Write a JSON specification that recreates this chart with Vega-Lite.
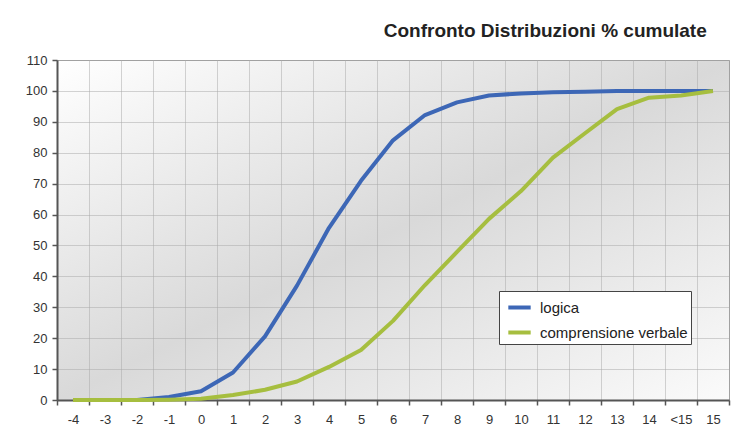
{
  "$schema": "https://vega.github.io/schema/vega-lite/v6.json",
  "width": 672,
  "height": 340,
  "autosize": "none",
  "padding": {"left": 57, "top": 60, "right": 10, "bottom": 41},
  "background": "white",
  "title": {
    "text": "Confronto Distribuzioni % cumulate",
    "anchor": "end",
    "dx": -23,
    "offset": 13,
    "font": "Liberation Sans",
    "fontSize": 19,
    "fontWeight": "bold",
    "color": "#222222"
  },
  "data": {
    "values": [
      {"p": "-4", "o": 0, "s": "logica", "v": 0},
      {"p": "-3", "o": 1, "s": "logica", "v": 0},
      {"p": "-2", "o": 2, "s": "logica", "v": 0},
      {"p": "-1", "o": 3, "s": "logica", "v": 1},
      {"p": "0", "o": 4, "s": "logica", "v": 2.8},
      {"p": "1", "o": 5, "s": "logica", "v": 8.9},
      {"p": "2", "o": 6, "s": "logica", "v": 20.6},
      {"p": "3", "o": 7, "s": "logica", "v": 37},
      {"p": "4", "o": 8, "s": "logica", "v": 55.7},
      {"p": "5", "o": 9, "s": "logica", "v": 70.9},
      {"p": "6", "o": 10, "s": "logica", "v": 84},
      {"p": "7", "o": 11, "s": "logica", "v": 92.2},
      {"p": "8", "o": 12, "s": "logica", "v": 96.3},
      {"p": "9", "o": 13, "s": "logica", "v": 98.5},
      {"p": "10", "o": 14, "s": "logica", "v": 99.2},
      {"p": "11", "o": 15, "s": "logica", "v": 99.6},
      {"p": "12", "o": 16, "s": "logica", "v": 99.7},
      {"p": "13", "o": 17, "s": "logica", "v": 100},
      {"p": "14", "o": 18, "s": "logica", "v": 100},
      {"p": "<15", "o": 19, "s": "logica", "v": 100},
      {"p": "15", "o": 20, "s": "logica", "v": 100},
      {"p": "-4", "o": 0, "s": "comprensione verbale", "v": 0},
      {"p": "-3", "o": 1, "s": "comprensione verbale", "v": 0},
      {"p": "-2", "o": 2, "s": "comprensione verbale", "v": 0},
      {"p": "-1", "o": 3, "s": "comprensione verbale", "v": 0.1},
      {"p": "0", "o": 4, "s": "comprensione verbale", "v": 0.4},
      {"p": "1", "o": 5, "s": "comprensione verbale", "v": 1.6},
      {"p": "2", "o": 6, "s": "comprensione verbale", "v": 3.3},
      {"p": "3", "o": 7, "s": "comprensione verbale", "v": 6},
      {"p": "4", "o": 8, "s": "comprensione verbale", "v": 10.7},
      {"p": "5", "o": 9, "s": "comprensione verbale", "v": 16.2},
      {"p": "6", "o": 10, "s": "comprensione verbale", "v": 25.6},
      {"p": "7", "o": 11, "s": "comprensione verbale", "v": 37.2},
      {"p": "8", "o": 12, "s": "comprensione verbale", "v": 47.9},
      {"p": "9", "o": 13, "s": "comprensione verbale", "v": 58.6},
      {"p": "10", "o": 14, "s": "comprensione verbale", "v": 67.6},
      {"p": "11", "o": 15, "s": "comprensione verbale", "v": 78.4},
      {"p": "12", "o": 16, "s": "comprensione verbale", "v": 86.3},
      {"p": "13", "o": 17, "s": "comprensione verbale", "v": 94.1},
      {"p": "14", "o": 18, "s": "comprensione verbale", "v": 97.8},
      {"p": "<15", "o": 19, "s": "comprensione verbale", "v": 98.5},
      {"p": "15", "o": 20, "s": "comprensione verbale", "v": 100}
    ]
  },
  "mark": {"type": "line", "strokeWidth": 4, "strokeJoin": "round"},
  "encoding": {
    "x": {
      "field": "p",
      "type": "ordinal",
      "sort": ["-4","-3","-2","-1","0","1","2","3","4","5","6","7","8","9","10","11","12","13","14","<15","15"],
      "scale": {"paddingInner": 0, "paddingOuter": 0},
      "axis": {
        "title": null,
        "labelAngle": 0,
        "tickBand": "extent",
        "grid": true,
        "gridDash": [1, 1],
        "gridColor": "#a8a8a8",
        "gridWidth": 1,
        "domainColor": "#555555",
        "domainWidth": 2,
        "tickColor": "#555555",
        "tickWidth": 1.5,
        "tickSize": 5,
        "labelPadding": 8,
        "labelFont": "Liberation Sans",
        "labelFontSize": 13,
        "labelColor": "#333333"
      }
    },
    "y": {
      "field": "v",
      "type": "quantitative",
      "scale": {"domain": [0, 110], "nice": false},
      "axis": {
        "title": null,
        "values": [0,10,20,30,40,50,60,70,80,90,100,110],
        "grid": true,
        "gridDash": [1, 1],
        "gridColor": "#a8a8a8",
        "gridWidth": 1,
        "domainColor": "#555555",
        "domainWidth": 2,
        "tickColor": "#555555",
        "tickWidth": 1.5,
        "tickSize": 5,
        "labelPadding": 5,
        "labelFont": "Liberation Sans",
        "labelFontSize": 13,
        "labelColor": "#333333"
      }
    },
    "color": {
      "field": "s",
      "type": "nominal",
      "scale": {"domain": ["logica", "comprensione verbale"], "range": ["#3d67b6", "#a6be3f"]},
      "legend": {
        "title": null,
        "orient": "none",
        "legendX": 442,
        "legendY": 231,
        "symbolType": "stroke",
        "symbolStrokeWidth": 4,
        "symbolSize": 500,
        "symbolOffset": 4,
        "labelFont": "Liberation Sans",
        "labelFontSize": 15,
        "labelColor": "#222222",
        "strokeColor": "#444444",
        "fillColor": "white",
        "padding": 3,
        "rowPadding": 3,
        "labelOffset": 7
      }
    },
    "order": {"field": "o", "type": "quantitative"}
  },
  "config": {
    "view": {
      "stroke": "#999999",
      "strokeWidth": 1,
      "fill": {
        "gradient": "linear",
        "x1": 0, "y1": 0, "x2": 1, "y2": 1,
        "stops": [
          {"offset": 0, "color": "#ffffff"},
          {"offset": 0.5, "color": "#d9d9d9"},
          {"offset": 1, "color": "#fbfbfb"}
        ]
      }
    }
  }
}
